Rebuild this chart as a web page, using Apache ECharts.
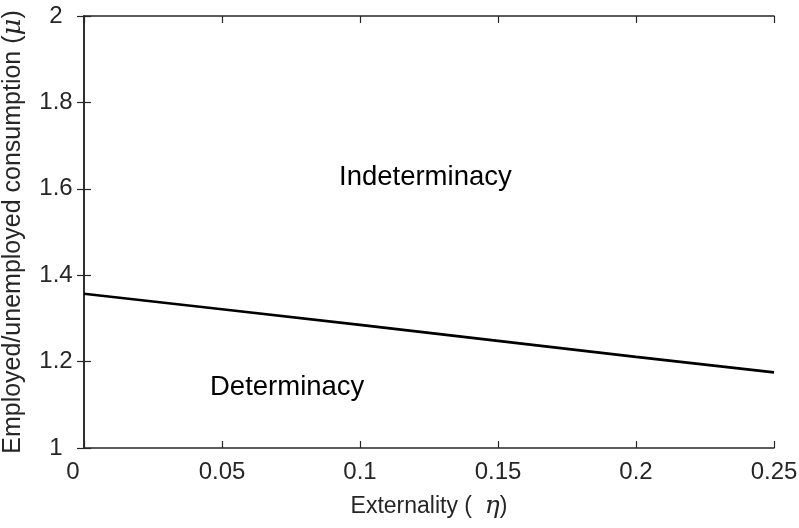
<!DOCTYPE html>
<html>
<head>
<meta charset="utf-8">
<script src="https://cdn.jsdelivr.net/npm/echarts@6/dist/echarts.min.js"></script>
<style>
  html, body { margin: 0; padding: 0; background: #fff; }
  #chart { width: 799px; height: 528px; }
</style>
</head>
<body>
<div id="chart"></div>
<script>
const etaValues = [0, 0.05, 0.1, 0.15, 0.2, 0.25];
const muBoundary = [1.357, 1.321, 1.285, 1.248, 1.211, 1.175];
const xTicks = [0, 0.05, 0.1, 0.15, 0.2, 0.25];
const yTicks = [1, 1.2, 1.4, 1.6, 1.8, 2];

const axisColor = "#262626";
const font = "Liberation Sans, Arial, Helvetica, sans-serif";

const chart = echarts.init(document.getElementById("chart"));

const tickStyle = { show: true, inside: true, length: 7, lineStyle: { color: axisColor, width: 1.2 } };
const lineStyle = { show: true, lineStyle: { color: axisColor, width: 1.6 } };

chart.setOption({
  animation: false,
  backgroundColor: "#fff",
  grid: { left: 84, right: 25, top: 16, bottom: 80, containLabel: false, outerBoundsMode: "none" },
  xAxis: [
    {
      type: "value",
      min: xTicks[0],
      max: xTicks[xTicks.length - 1],
      interval: 0.05,
      axisLine: lineStyle,
      axisTick: tickStyle,
      splitLine: { show: false },
      axisLabel: {
        color: axisColor, fontSize: 24, fontFamily: font, margin: 12,
        formatter: (v) => (v === 0 ? "{z|0}" : String(Number(v.toFixed(2)))),
        rich: { z: { fontSize: 24, fontFamily: font, color: axisColor, padding: [0, 22, 0, 0] } },
      },
      name: "{r|Externality (  }{i|η}{r|)}",
      nameLocation: "middle",
      nameGap: 46,
      nameTextStyle: {
        fontSize: 23,
        fontFamily: font,
        color: axisColor,
        rich: {
          r: { fontSize: 23, fontFamily: font, color: axisColor },
          i: { fontSize: 25, fontFamily: "DejaVu Serif, serif", fontStyle: "italic", color: axisColor },
        },
      },
    },
    {
      type: "value",
      position: "top",
      min: xTicks[0],
      max: xTicks[xTicks.length - 1],
      interval: 0.05,
      axisLine: lineStyle,
      axisTick: tickStyle,
      axisLabel: { show: false },
      splitLine: { show: false },
    },
  ],
  yAxis: [
    {
      type: "value",
      min: yTicks[0],
      max: yTicks[yTicks.length - 1],
      interval: 0.2,
      axisLine: lineStyle,
      axisTick: tickStyle,
      splitLine: { show: false },
      axisLabel: {
        color: axisColor, fontSize: 24, fontFamily: font, margin: 28, align: "center",
        formatter: (v) => String(Number(v.toFixed(1))),
      },
      name: "{r|Employed/unemployed consumption (}{i|μ}{r|)}",
      nameLocation: "middle",
      nameGap: 58,
      nameTextStyle: {
        fontSize: 25,
        fontFamily: font,
        color: axisColor,
        rich: {
          r: { fontSize: 25, fontFamily: font, color: axisColor },
          i: { fontSize: 26, fontFamily: "DejaVu Serif, serif", fontStyle: "italic", color: axisColor },
        },
      },
    },
    {
      type: "value",
      position: "right",
      min: yTicks[0],
      max: yTicks[yTicks.length - 1],
      interval: 0.2,
      axisLine: lineStyle,
      axisTick: tickStyle,
      axisLabel: { show: false },
      splitLine: { show: false },
    },
  ],
  series: [
    {
      type: "line",
      data: etaValues.map((x, i) => [x, muBoundary[i]]),
      showSymbol: false,
      lineStyle: { color: "#000", width: 2.6 },
      z: 3,
    },
  ],
  graphic: [
    {
      type: "text",
      left: 339,
      top: 163,
      style: { text: "Indeterminacy", fontSize: 27.5, fontFamily: font, fill: "#000" },
    },
    {
      type: "text",
      left: 210,
      top: 373,
      style: { text: "Determinacy", fontSize: 27.5, fontFamily: font, fill: "#000" },
    },
  ],
});
</script>
</body>
</html>
